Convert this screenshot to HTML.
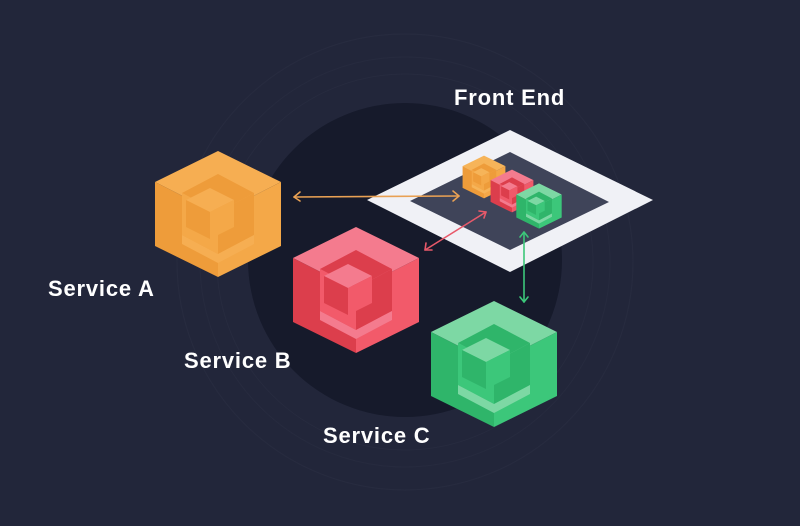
<!DOCTYPE html>
<html><head><meta charset="utf-8"><style>
html,body{margin:0;padding:0;background:#22263a;}
svg{display:block}
text{font-family:"Liberation Sans",sans-serif;font-weight:bold;fill:#fff;font-size:22px;letter-spacing:0.8px}
</style></head><body>
<svg width="800" height="526" viewBox="0 0 800 526" xmlns="http://www.w3.org/2000/svg">
<defs>
<g id="cubeO">
 <polygon points="0,-63 63,-32 0,0 -63,-32" fill="var(--t)"/>
 <polygon points="-63,-32 0,0 0,63 -63,32" fill="var(--l)"/>
 <polygon points="0,0 63,-32 63,32 0,63" fill="var(--r)"/>
 <polygon points="0,-40 36,-21 0,-2 -36,-21" fill="var(--l)"/>
 <polygon points="-36,-21 0,-2 0,40 -36,21" fill="var(--r)"/>
 <polygon points="0,-2 36,-21 36,21 0,40" fill="var(--l)"/>
 <polygon points="-36,21 0,40 36,21 36,30 0,49 -36,30" fill="var(--t)"/>
 <polygon points="-8,-26 16,-14 -8,-2 -32,-14" fill="var(--t)"/>
 <polygon points="-32,-14 -8,-2 -8,25 -32,13" fill="var(--l)"/>
 <polygon points="-8,-2 16,-14 16,13 -8,25" fill="var(--r)"/>
</g>
</defs>
<circle cx="405" cy="262" r="228" fill="none" stroke="#272b3f" stroke-width="1.2"/>
<circle cx="405" cy="262" r="205" fill="none" stroke="#262a3e" stroke-width="1.2"/>
<circle cx="405" cy="262" r="188" fill="none" stroke="#272b3f" stroke-width="1"/>
<circle cx="405" cy="260" r="157" fill="#161a2b"/>
<polygon points="367,200 510,130 653,200 510,272" fill="#f0f1f6"/>
<polygon points="410,201 510,152 609,202 510,250" fill="#3f4459"/>
<g transform="translate(484,177) scale(0.34)" style="--t:#f6b459;--l:#ee9c3a;--r:#f4a848"><use href="#cubeO"/></g>
<g transform="translate(512,191) scale(0.34)" style="--t:#f47b8e;--l:#dc3e4c;--r:#f05a6a"><use href="#cubeO"/></g>
<g transform="translate(539,206) scale(0.36)" style="--t:#7dd8a4;--l:#2fb56a;--r:#3cc77a"><use href="#cubeO"/></g>
<g fill="none" stroke-width="1.6" stroke-linecap="round" stroke-linejoin="round">
 <g stroke="#e9a154"><line x1="294" y1="197" x2="459" y2="196"/><polyline points="300,192 294,197 300,201"/><polyline points="453,191 459,196 453,201"/></g>
 <g stroke="#e8596a"><line x1="425" y1="250" x2="486" y2="212"/><polyline points="426,243 425,250 432,250"/><polyline points="479,211 486,212 484,218"/></g>
 <g stroke="#3cc77a"><line x1="524" y1="232" x2="524" y2="302"/><polyline points="520,237 524,232 528,237"/><polyline points="520,297 524,302 528,297"/></g>
</g>
<g transform="translate(218,214)" style="--t:#f6ae52;--l:#ee9c3a;--r:#f4a848"><use href="#cubeO"/></g>
<g transform="translate(356,290)" style="--t:#f47b8e;--l:#dc3e4c;--r:#f25a6a"><use href="#cubeO"/></g>
<g transform="translate(494,364)" style="--t:#7dd8a4;--l:#2fb56a;--r:#3cc77a"><use href="#cubeO"/></g>
<text x="454" y="105">Front End</text>
<text x="48" y="296">Service A</text>
<text x="184" y="368">Service B</text>
<text x="323" y="443">Service C</text>
</svg>
</body></html>
